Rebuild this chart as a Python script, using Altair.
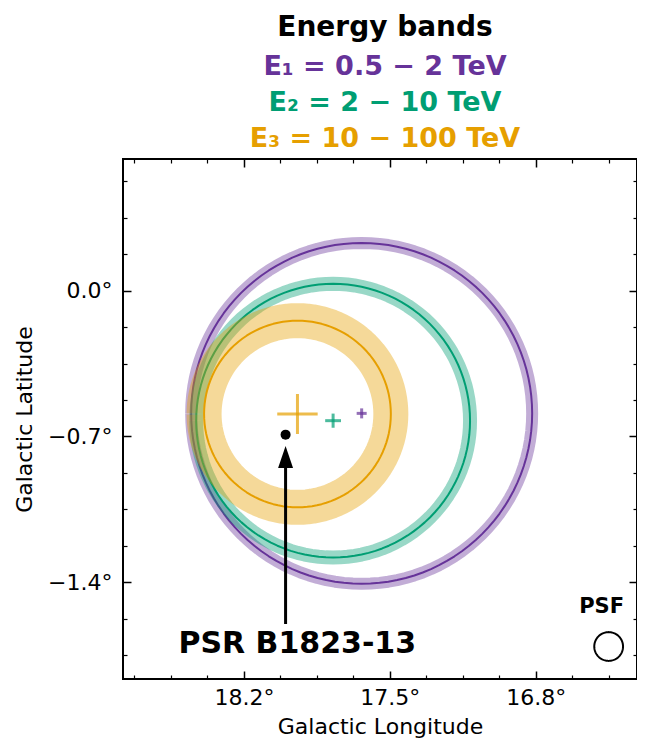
import altair as alt
import pandas as pd

# ---------------- data ----------------
bands = ["E1", "E2", "E3"]
band_colors = ["#663399", "#009E73", "#E69F00"]
title_lines = ["Energy bands", "E₁ = 0.5 − 2 TeV", "E₂ = 2 − 10 TeV", "E₃ = 10 − 100 TeV"]
title_colors = ["black"] + band_colors

center_lon = [17.635, 17.772, 17.943]
center_lat = [-0.589, -0.624, -0.592]
radius = [0.818, 0.657, 0.448]
lon_err = [0.024, 0.038, 0.097]
lat_err = [0.024, 0.034, 0.096]

psr_label = ["PSR B1823-13"]
psr_lon = [18.00]
psr_lat = [-0.691]
arrow_tail_lat = [-1.60]
arrow_shaft_top_lat = [-0.80]
arrow_tip_lat = [-0.745]
psr_text_lon = [17.944]
psr_text_lat = [-1.695]

psf_label = ["PSF"]
psf_lon = [16.45]
psf_lat = [-1.708]
psf_radius = [0.069]
psf_text_lon = [16.484]
psf_text_lat = [-1.52]

x_major = [18.2, 17.5, 16.8]
x_minor = [18.725, 18.55, 18.375, 18.025, 17.85, 17.675, 17.325, 17.15, 16.975, 16.625, 16.45]
y_major = [0.0, -0.7, -1.4]
y_minor = [0.525, 0.35, 0.175, -0.175, -0.35, -0.525, -0.875, -1.05, -1.225, -1.575, -1.75]
x_domain = [16.314, 18.78]
y_domain = [-1.864, 0.632]
angles = list(range(0, 361, 3))

# ---------------- helpers ----------------
FONT = "DejaVu Sans"
XS = alt.Scale(domain=x_domain, reverse=True, nice=False, zero=False)
YS = alt.Scale(domain=y_domain, nice=False, zero=False)


def X(field, axis=None):
    return alt.X(field, type="quantitative", scale=XS, axis=axis)


def Y(field, axis=None):
    return alt.Y(field, type="quantitative", scale=YS, axis=axis)


band_color = alt.Color("band:N", scale=alt.Scale(domain=bands, range=band_colors), legend=None)

circ_df = pd.DataFrame({"band": bands, "cx": center_lon, "cy": center_lat,
                        "r": radius, "t": [angles] * len(bands)})
circ_base = alt.Chart(circ_df).transform_flatten(["t"]).transform_calculate(
    lon="datum.cx + datum.r * cos(datum.t * PI / 180)",
    lat="datum.cy + datum.r * sin(datum.t * PI / 180)",
)

band_widths = [12, 14, 35]
layers = []
for b, c, w in zip(bands, band_colors, band_widths):
    sub = circ_base.transform_filter(alt.datum.band == b)
    layers.append(sub.mark_line(color=c, strokeWidth=w, opacity=0.4, strokeJoin="round").encode(
        x=X("lon:Q"), y=Y("lat:Q"), order="t:Q"))
    layers.append(sub.mark_line(color=c, strokeWidth=2, strokeJoin="round").encode(
        x=X("lon:Q"), y=Y("lat:Q"), order="t:Q"))

cross_df = pd.DataFrame({"band": bands, "cx": center_lon, "cy": center_lat,
                         "ex": lon_err, "ey": lat_err})
cross_base = alt.Chart(cross_df).transform_calculate(
    x_lo="datum.cx - datum.ex", x_hi="datum.cx + datum.ex",
    y_lo="datum.cy - datum.ey", y_hi="datum.cy + datum.ey")
layers.append(cross_base.mark_rule(strokeWidth=3, opacity=0.7).encode(
    x=X("x_lo:Q"), x2="x_hi:Q", y=Y("cy:Q"), color=band_color))
layers.append(cross_base.mark_rule(strokeWidth=3, opacity=0.7).encode(
    x=X("cx:Q"), y=Y("y_lo:Q"), y2="y_hi:Q", color=band_color))

# pulsar
psr_df = pd.DataFrame({"lon": psr_lon, "lat": psr_lat, "tail": arrow_tail_lat,
                       "shaft": arrow_shaft_top_lat, "tip": arrow_tip_lat,
                       "tlon": psr_text_lon, "tlat": psr_text_lat, "label": psr_label})
layers.append(alt.Chart(psr_df).mark_circle(size=100, color="black", opacity=1).encode(
    x=X("lon:Q"), y=Y("lat:Q")))
layers.append(alt.Chart(psr_df).mark_rule(color="black", strokeWidth=3).encode(
    x=X("lon:Q"), y=Y("tail:Q"), y2="shaft:Q"))
layers.append(alt.Chart(psr_df).mark_point(
    shape="M0,0L0.68,2L-0.68,2Z", size=484, filled=True, color="black", opacity=1,
    strokeWidth=0).encode(x=X("lon:Q"), y=Y("tip:Q")))
layers.append(alt.Chart(psr_df).mark_text(
    font=FONT, fontSize=30, fontWeight="bold", color="black", align="center",
    baseline="middle").encode(x=X("tlon:Q"), y=Y("tlat:Q"), text="label:N"))

# PSF
psf_df = pd.DataFrame({"cx": psf_lon, "cy": psf_lat, "r": psf_radius, "t": [angles],
                       "tlon": psf_text_lon, "tlat": psf_text_lat, "label": psf_label})
psf_base = alt.Chart(psf_df)
layers.append(psf_base.transform_flatten(["t"]).transform_calculate(
    lon="datum.cx + datum.r * cos(datum.t * PI / 180)",
    lat="datum.cy + datum.r * sin(datum.t * PI / 180)",
).mark_line(color="black", strokeWidth=2).encode(x=X("lon:Q"), y=Y("lat:Q"), order="t:Q"))
layers.append(psf_base.mark_text(
    font=FONT, fontSize=21, fontWeight="bold", color="black", align="center",
    baseline="middle").encode(x=X("tlon:Q"), y=Y("tlat:Q"), text="label:N"))

# title lines (above the plot)
title_y = [-123, -84, -48, -12]
title_sizes = [28, 27, 27, 27]
for txt, col, ty, fs in zip(title_lines, title_colors, title_y, title_sizes):
    layers.append(alt.Chart(pd.DataFrame({"t": [txt]})).mark_text(
        font=FONT, fontSize=fs, fontWeight="bold", color=col, align="center",
        baseline="alphabetic").encode(text="t:N", x=alt.value(262), y=alt.value(ty)))

# ---------------- axes (carried by invisible layers) ----------------
deg_expr = "format(datum.value, '.1f') + '°'"


def tick_axis(orient, values, size, width):
    return alt.Axis(orient=orient, values=values, tickSize=size, tickWidth=width,
                    tickColor="black", offset=-size, labels=False, domain=False,
                    grid=False, title=None, zindex=2)


x_label_axis = alt.Axis(orient="bottom", values=x_major, labelExpr=deg_expr, ticks=False,
                        tickSize=0, domain=False, grid=False, labelPadding=8,
                        labelFontSize=22, labelFont=FONT, labelColor="black",
                        labelFlush=False, labelOverlap=False,
                        title="Galactic Longitude", titleFontSize=22, titleFont=FONT,
                        titleFontWeight="normal", titleColor="black", titlePadding=8)
y_label_axis = alt.Axis(orient="left", values=y_major, labelExpr=deg_expr, ticks=False,
                        tickSize=0, domain=False, grid=False, labelPadding=11,
                        labelFontSize=22, labelFont=FONT, labelColor="black",
                        labelFlush=False, labelOverlap=False,
                        title="Galactic Latitude", titleFontSize=22, titleFont=FONT,
                        titleFontWeight="normal", titleColor="black", titlePadding=11)

x_axes = [x_label_axis, tick_axis("bottom", x_major, 8, 1.5), tick_axis("bottom", x_minor, 4, 1.2),
          tick_axis("top", x_major, 8, 1.5), tick_axis("top", x_minor, 4, 1.2)]
y_axes = [y_label_axis, tick_axis("left", y_major, 8, 1.5), tick_axis("left", y_minor, 4, 1.2),
          tick_axis("right", y_major, 8, 1.5), tick_axis("right", y_minor, 4, 1.2)]

dummy = pd.DataFrame({"lon": psr_lon, "lat": psr_lat})
for xa, ya in zip(x_axes, y_axes):
    layers.append(alt.Chart(dummy).mark_point(opacity=0).encode(
        x=X("lon:Q", xa), y=Y("lat:Q", ya)))

chart = alt.layer(*layers).resolve_axis(x="independent", y="independent").properties(
    width=514, height=520,
    autosize=alt.AutoSizeParams(type="none"),
    padding={"left": 115, "top": 151, "right": 0, "bottom": 62},
    background="white",
).configure_view(stroke="black", strokeWidth=2)

chart.save("out.html", embed_options={"renderer": "svg", "actions": False})
